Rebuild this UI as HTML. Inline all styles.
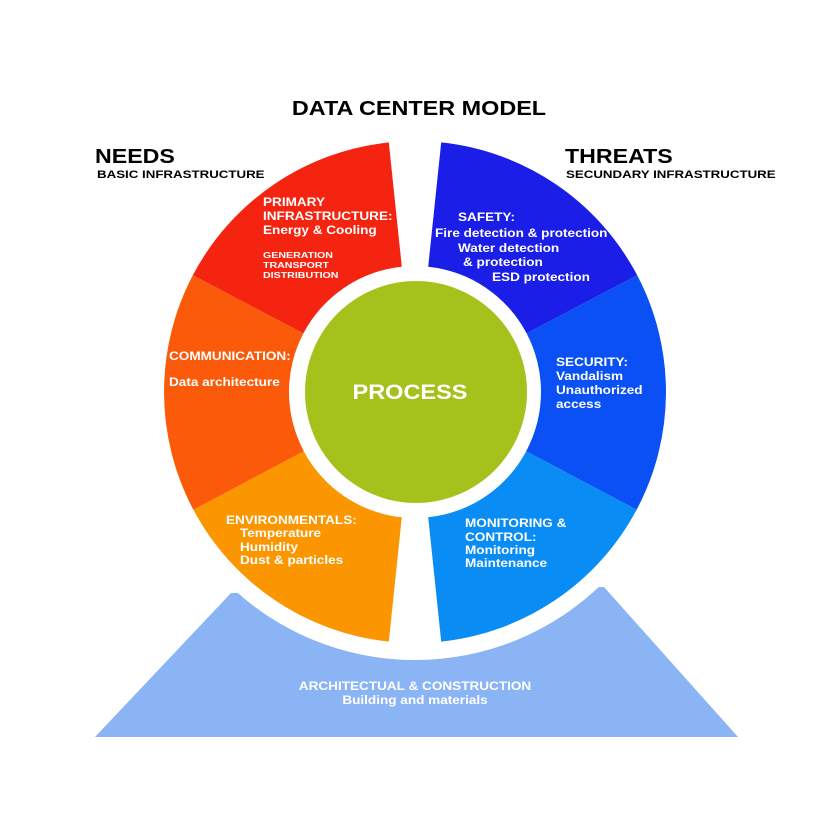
<!DOCTYPE html>
<html><head><style>body{margin:0;background:#fff}svg{display:block}text{font-family:"Liberation Sans",Arial,sans-serif;font-weight:bold}</style></head>
<body>
<svg width="836" height="836" viewBox="0 0 836 836">
<rect width="836" height="836" fill="#fff"/>
<polygon points="95,737 738,737 604,587 231,593" fill="#8ab4f4"/>
<circle cx="415" cy="392" r="268" fill="#fff"/>
<g>
<path d="M192.8,275.3 A251,251 0 0 1 388.8,142.4 L401.8,266.7 A126,126 0 0 0 303.4,333.4 Z" fill="#f42410"/>
<path d="M441.2,142.4 A251,251 0 0 1 637.2,275.3 L526.6,333.4 A126,126 0 0 0 428.2,266.7 Z" fill="#1a1ee6"/>
<path d="M637.2,275.3 A251,251 0 0 1 636.6,509.8 L526.2,451.2 A126,126 0 0 0 526.6,333.4 Z" fill="#0a50f5"/>
<path d="M636.6,509.8 A251,251 0 0 1 441.2,641.6 L428.2,517.3 A126,126 0 0 0 526.2,451.2 Z" fill="#0a8cf5"/>
<path d="M388.8,641.6 A251,251 0 0 1 193.4,509.8 L303.8,451.2 A126,126 0 0 0 401.8,517.3 Z" fill="#fb9600"/>
<path d="M193.4,509.8 A251,251 0 0 1 192.8,275.3 L303.4,333.4 A126,126 0 0 0 303.8,451.2 Z" fill="#fa5a0a"/>
</g>
<circle cx="416" cy="392" r="111" fill="#a5c11b"/>
<text transform="translate(410,399) scale(1.12,1)" font-size="21" fill="#fff" text-anchor="middle">PROCESS</text>

<text transform="translate(419,115) scale(1.17,1)" font-size="20" text-anchor="middle" fill="#000">DATA CENTER MODEL</text>
<text transform="translate(95,163) scale(1.16,1)" font-size="20" fill="#000">NEEDS</text>
<text transform="translate(97,178) scale(1.21,1)" font-size="11" fill="#000">BASIC INFRASTRUCTURE</text>
<text transform="translate(565,163) scale(1.16,1)" font-size="20" fill="#000">THREATS</text>
<text transform="translate(566,178) scale(1.21,1)" font-size="11" fill="#000">SECUNDARY INFRASTRUCTURE</text>

<g fill="#fff" font-size="11.5">
<text transform="translate(263,206) scale(1.18,1)">PRIMARY</text>
<text transform="translate(263,220) scale(1.18,1)">INFRASTRUCTURE:</text>
<text transform="translate(263,234) scale(1.18,1)">Energy &amp; Cooling</text>
<text transform="translate(263,258) scale(1.25,1)" font-size="8.5">GENERATION</text>
<text transform="translate(263,268) scale(1.25,1)" font-size="8.5">TRANSPORT</text>
<text transform="translate(263,278) scale(1.25,1)" font-size="8.5">DISTRIBUTION</text>

<text transform="translate(458,221) scale(1.18,1)">SAFETY:</text>
<text transform="translate(435,237) scale(1.18,1)">Fire detection &amp; protection</text>
<text transform="translate(458,252) scale(1.18,1)">Water detection</text>
<text transform="translate(463,266) scale(1.18,1)">&amp; protection</text>
<text transform="translate(492,281) scale(1.18,1)">ESD protection</text>

<text transform="translate(169,360) scale(1.18,1)">COMMUNICATION:</text>
<text transform="translate(169,386) scale(1.18,1)">Data architecture</text>

<text transform="translate(556,366) scale(1.18,1)">SECURITY:</text>
<text transform="translate(556,380) scale(1.18,1)">Vandalism</text>
<text transform="translate(556,394) scale(1.18,1)">Unauthorized</text>
<text transform="translate(556,408) scale(1.18,1)">access</text>

<text transform="translate(226,524) scale(1.18,1)">ENVIRONMENTALS:</text>
<text transform="translate(240,537) scale(1.18,1)">Temperature</text>
<text transform="translate(240,551) scale(1.18,1)">Humidity</text>
<text transform="translate(240,564) scale(1.18,1)">Dust &amp; particles</text>

<text transform="translate(465,527) scale(1.18,1)">MONITORING &amp;</text>
<text transform="translate(465,541) scale(1.18,1)">CONTROL:</text>
<text transform="translate(465,554) scale(1.18,1)">Monitoring</text>
<text transform="translate(465,567) scale(1.18,1)">Maintenance</text>

<text transform="translate(415,690) scale(1.18,1)" text-anchor="middle">ARCHITECTUAL &amp; CONSTRUCTION</text>
<text transform="translate(415,704) scale(1.18,1)" text-anchor="middle">Building and materials</text>
</g>
</svg>
</body></html>
